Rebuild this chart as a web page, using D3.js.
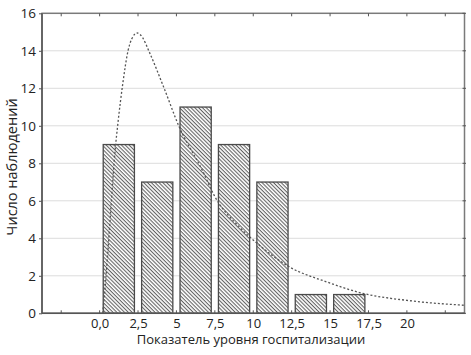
<!DOCTYPE html>
<html><head><meta charset="utf-8">
<script src="https://cdn.jsdelivr.net/npm/d3@7"></script>
<style>
body{margin:0;background:#fff;}
text{font-family:"Open Sans","Noto Sans",sans-serif;fill:#222;}
</style></head>
<body><svg id="c" width="471" height="355"></svg>
<script>
const binStarts = [0, 2.5, 5, 7.5, 10, 12.5, 15];
const binWidth = 2.5;
const counts = [9, 7, 11, 9, 7, 1, 1];
const xTicks = [-2.5, 0, 2.5, 5, 7.5, 10, 12.5, 15, 17.5, 20, 22.5];
const xTickLabels = ["", "0,0", "2,5", "5", "7,5", "10", "12,5", "15", "17,5", "20", ""];
const yTicks = [0, 2, 4, 6, 8, 10, 12, 14, 16];
const curveX = [0.2, 0.4, 0.6, 0.8, 1.0, 1.2, 1.5, 1.85, 2.1, 2.45, 2.8, 3.2, 4.2, 5.15, 6.7, 7.45, 9.1, 10.3, 12.3, 14.8, 17.2, 20.0, 23.7];
const curveY = [0, 1.8, 4.0, 6.4, 8.6, 10.2, 12.2, 14.0, 14.65, 14.95, 14.7, 14.0, 12.0, 10.0, 7.6, 6.3, 4.6, 3.7, 2.5, 1.67, 1.05, 0.69, 0.43];
const xTitle = "Показатель уровня госпитализации";
const yTitle = "Число наблюдений";

const svg = d3.select("#c");
const L = 42, R = 464.5, T = 13.3, B = 313.3;
const x = d3.scaleLinear().domain([-3.75, 23.75]).range([L, R]);
const y = d3.scaleLinear().domain([0, 16]).range([B, T]);
const FONT = '"Open Sans","Noto Sans",sans-serif';

const defs = svg.append("defs");
const pat = defs.append("pattern").attr("id", "hatch").attr("patternUnits", "userSpaceOnUse")
  .attr("width", 6).attr("height", 2.7).attr("patternTransform", "rotate(45)");
pat.append("line").attr("x1", 0).attr("x2", 6).attr("y1", 0.6).attr("y2", 0.6)
  .attr("stroke", "#3a3a3a").attr("stroke-width", 0.9);
defs.append("clipPath").attr("id", "plotclip").append("rect")
  .attr("x", L).attr("y", T).attr("width", R - L).attr("height", B - T);

// gridlines
svg.append("g").selectAll("line").data(yTicks.filter(d => d > 0 && d < 16)).join("line")
  .attr("x1", L).attr("x2", R).attr("y1", d => y(d)).attr("y2", d => y(d))
  .attr("stroke", "#dcdcdc").attr("stroke-width", 1);

// bars
const inset = 3.6;
const bars = svg.append("g");
bars.selectAll("rect.fill").data(counts).join("rect")
  .attr("x", (d, i) => x(binStarts[i]) + inset)
  .attr("width", (d, i) => x(binStarts[i] + binWidth) - x(binStarts[i]) - 2 * inset)
  .attr("y", d => y(d)).attr("height", d => y(0) - y(d))
  .attr("fill", "#fff").attr("stroke", "none");
bars.selectAll("rect.h").data(counts).join("rect")
  .attr("x", (d, i) => x(binStarts[i]) + inset)
  .attr("width", (d, i) => x(binStarts[i] + binWidth) - x(binStarts[i]) - 2 * inset)
  .attr("y", d => y(d)).attr("height", d => y(0) - y(d))
  .attr("fill", "url(#hatch)").attr("stroke", "#4a4a4a").attr("stroke-width", 1.3);

// curve
const pts = curveX.map((v, i) => [v, curveY[i]]);
svg.append("path").datum(pts)
  .attr("clip-path", "url(#plotclip)")
  .attr("d", d3.line().x(d => x(d[0])).y(d => y(d[1])).curve(d3.curveMonotoneX))
  .attr("fill", "none").attr("stroke", "#555").attr("stroke-width", 1.3)
  .attr("stroke-dasharray", "2,2");

// frame
svg.append("rect").attr("x", L).attr("y", T).attr("width", R - L).attr("height", B - T)
  .attr("fill", "none").attr("stroke", "#7a7a7a").attr("stroke-width", 1.5);
svg.append("line").attr("x1", L).attr("x2", L).attr("y1", T).attr("y2", B).attr("stroke", "#555").attr("stroke-width", 1.5);
svg.append("line").attr("x1", L).attr("x2", R).attr("y1", B).attr("y2", B).attr("stroke", "#555").attr("stroke-width", 1.5);

// axes
const xAxis = d3.axisBottom(x).tickValues(xTicks).tickSize(0).tickPadding(5)
  .tickFormat((d, i) => xTickLabels[i]);
const gx = svg.append("g").attr("transform", `translate(0,${B})`).call(xAxis);
gx.select(".domain").remove();
gx.selectAll("text").style("font-size", "13px").style("font-family", FONT).attr("fill", "#222");

const yAxis = d3.axisLeft(y).tickValues(yTicks).tickSize(3).tickPadding(3);
const gy = svg.append("g").attr("transform", `translate(${L},0)`).call(yAxis);
gy.select(".domain").remove();
gy.selectAll("line").attr("stroke", "#555");
gy.selectAll("text").style("font-size", "13.5px").style("font-family", FONT).attr("fill", "#222");

// inner tick marks top/bottom, right
svg.append("g").selectAll("line").data(xTicks).join("line")
  .attr("x1", d => x(d)).attr("x2", d => x(d)).attr("y1", T).attr("y2", T + 3).attr("stroke", "#555");
svg.append("g").selectAll("line").data(xTicks).join("line")
  .attr("x1", d => x(d)).attr("x2", d => x(d)).attr("y1", B).attr("y2", B - 3).attr("stroke", "#555");
svg.append("g").selectAll("line").data(yTicks).join("line")
  .attr("x1", R - 2).attr("x2", R + 1.5).attr("y1", d => y(d)).attr("y2", d => y(d)).attr("stroke", "#555");

// titles
svg.append("text").attr("x", 251).attr("y", 344).attr("text-anchor", "middle")
  .style("font-size", "13px").text(xTitle);
svg.append("text").attr("transform", `translate(12,167) rotate(-90)`)
  .attr("text-anchor", "middle").attr("dy", "0.35em")
  .style("font-size", "14.5px").text(yTitle);
</script></body></html>
